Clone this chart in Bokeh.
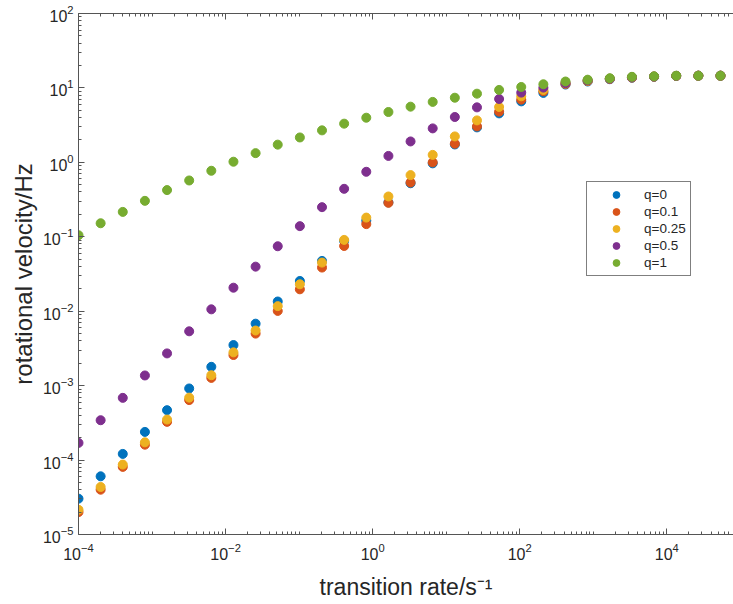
from bokeh.plotting import figure
from bokeh.models import LogAxis, FixedTicker, CustomJSTickFormatter, Range1d
from bokeh.embed import file_html
from bokeh.resources import INLINE

# transition rate (s^-1)
rate = [1e-4, 2e-4, 4e-4, 8e-4, 1.6e-3, 3.2e-3, 6.4e-3, 1.28e-2, 2.56e-2, 5.12e-2,
        0.1024, 0.2048, 0.4096, 0.8192, 1.6384, 3.2768, 6.5536, 13.1072, 26.2144, 52.4288,
        104.8576, 209.7152, 419.4304, 838.8608, 1677.7216, 3355.4432, 6710.8864,
        13421.7728, 26843.5456, 53687.0912]

q_labels = ["q=0", "q=0.1", "q=0.25", "q=0.5", "q=1"]

v_q0 = [3.03e-5, 6.05e-5, 1.21e-4, 2.39e-4, 4.68e-4, 9.16e-4, 1.79e-3, 3.51e-3, 6.8e-3, 1.35e-2,
        2.55e-2, 4.74e-2, 0.088, 0.165, 0.29, 0.524, 0.97, 1.74, 2.95, 4.55,
        6.60, 8.57, 11.1, 12.2, 13.1, 13.7, 14.1, 14.5, 14.6, 14.6]
v_q01 = [2.0e-5, 4.0e-5, 8.1e-5, 1.61e-4, 3.26e-4, 6.4e-4, 1.27e-3, 2.58e-3, 5.0e-3, 1.01e-2,
         1.97e-2, 3.86e-2, 7.53e-2, 0.148, 0.286, 0.536, 1.0, 1.78, 3.04, 4.80,
         6.96, 9.0, 11.3, 12.4, 13.2, 13.8, 14.2, 14.5, 14.6, 14.6]
v_q025 = [2.15e-5, 4.35e-5, 8.7e-5, 1.73e-4, 3.5e-4, 6.9e-4, 1.38e-3, 2.8e-3, 5.5e-3, 1.17e-2,
          2.3e-2, 4.5e-2, 9.08e-2, 0.181, 0.348, 0.674, 1.26, 2.23, 3.66, 5.55,
          7.71, 9.4, 11.5, 12.5, 13.3, 13.9, 14.2, 14.5, 14.6, 14.6]
v_q05 = [1.7e-4, 3.43e-4, 6.85e-4, 1.37e-3, 2.71e-3, 5.37e-3, 1.06e-2, 2.07e-2, 0.0397, 0.0746,
         0.139, 0.25, 0.441, 0.747, 1.22, 1.91, 2.86, 4.07, 5.48, 7.11,
         8.65, 10.1, 11.6, 12.6, 13.3, 13.9, 14.2, 14.5, 14.6, 14.6]
v_q1 = [0.105, 0.152, 0.216, 0.304, 0.424, 0.571, 0.771, 1.02, 1.33, 1.73,
        2.16, 2.69, 3.31, 3.98, 4.75, 5.6, 6.49, 7.39, 8.37, 9.40,
        10.3, 11.2, 12.2, 12.9, 13.5, 14.1, 14.3, 14.6, 14.6, 14.6]

series = [v_q0, v_q01, v_q025, v_q05, v_q1]
colors = ["#0072BD", "#D95319", "#EDB120", "#7E2F8E", "#77AC30"]

x_major = [1e-4, 1e-2, 1e0, 1e2, 1e4]
y_major = [1e-5, 1e-4, 1e-3, 1e-2, 1e-1, 1e0, 1e1, 1e2]

FONT = "Liberation Sans"
TXT = "#262626"
AX = "#555555"

def minor_ticks(lo, hi, majors):
    out = []
    for e in range(lo, hi + 1):
        for d in range(1, 10):
            v = d * 10.0 ** e
            if not any(abs(v - m) / m < 1e-9 for m in majors):
                out.append(v)
    return out

x_minor = minor_ticks(-4, 4, x_major)
y_minor = minor_ticks(-5, 1, y_major)

p = figure(width=733, height=604, x_axis_type="log", y_axis_type="log",
           x_range=Range1d(1e-4, 8.07e4), y_range=Range1d(1e-5, 1e2),
           output_backend="svg", toolbar_location=None,
           min_border_left=78, min_border_right=0, min_border_top=13, min_border_bottom=70)
p.outline_line_color = None
p.xgrid.visible = False
p.ygrid.visible = False
p.background_fill_color = "white"
p.border_fill_color = "white"

for vals, c, lab in zip(series, colors, q_labels):
    p.scatter(rate, vals, size=9, fill_color=c, line_color=c, legend_label=lab)

def style_axis(ax, ticker):
    ax.ticker = ticker
    ax.axis_line_color = AX
    ax.axis_line_width = 1
    ax.major_tick_line_color = AX
    ax.minor_tick_line_color = AX
    ax.major_tick_in = 6
    ax.major_tick_out = 0
    ax.minor_tick_in = 3
    ax.minor_tick_out = 0
    ax.major_label_text_font = FONT
    ax.major_label_text_font_size = "16px"
    ax.major_label_text_color = TXT
    ax.axis_label_text_font = FONT
    ax.axis_label_text_font_style = "normal"
    ax.axis_label_text_color = TXT

xa = p.xaxis[0]
style_axis(xa, FixedTicker(ticks=x_major, minor_ticks=x_minor))
xa.axis_label = "transition rate/s\u207b\u00b9"
xa.axis_label_text_font_size = "23px"
xa.major_label_standoff = 8
xa.axis_label_standoff = 11

ya = p.yaxis[0]
style_axis(ya, FixedTicker(ticks=y_major, minor_ticks=y_minor))
ya.axis_label = "rotational velocity/Hz"
ya.axis_label_text_font_size = "24px"
ya.major_label_standoff = 5
ya.axis_label_standoff = 3

top = LogAxis(ticker=FixedTicker(ticks=x_major, minor_ticks=x_minor),
              formatter=CustomJSTickFormatter(code="return ''"))
style_axis(top, FixedTicker(ticks=x_major, minor_ticks=x_minor))
top.major_label_text_font_size = "0px"
top.major_label_standoff = 0
p.add_layout(top, "above")

lg = p.legend[0]
lg.location = (508, 258)
lg.margin = 0
lg.padding = 4
lg.spacing = 0
lg.glyph_width = 50
lg.glyph_height = 17
lg.label_height = 17
lg.label_standoff = 3
lg.label_text_font = FONT
lg.label_text_font_size = "13.5px"
lg.label_text_color = TXT
lg.border_line_color = "black"
lg.border_line_width = 1
lg.background_fill_color = "white"
lg.background_fill_alpha = 1

open("out.html", "w").write(file_html(p, INLINE))
